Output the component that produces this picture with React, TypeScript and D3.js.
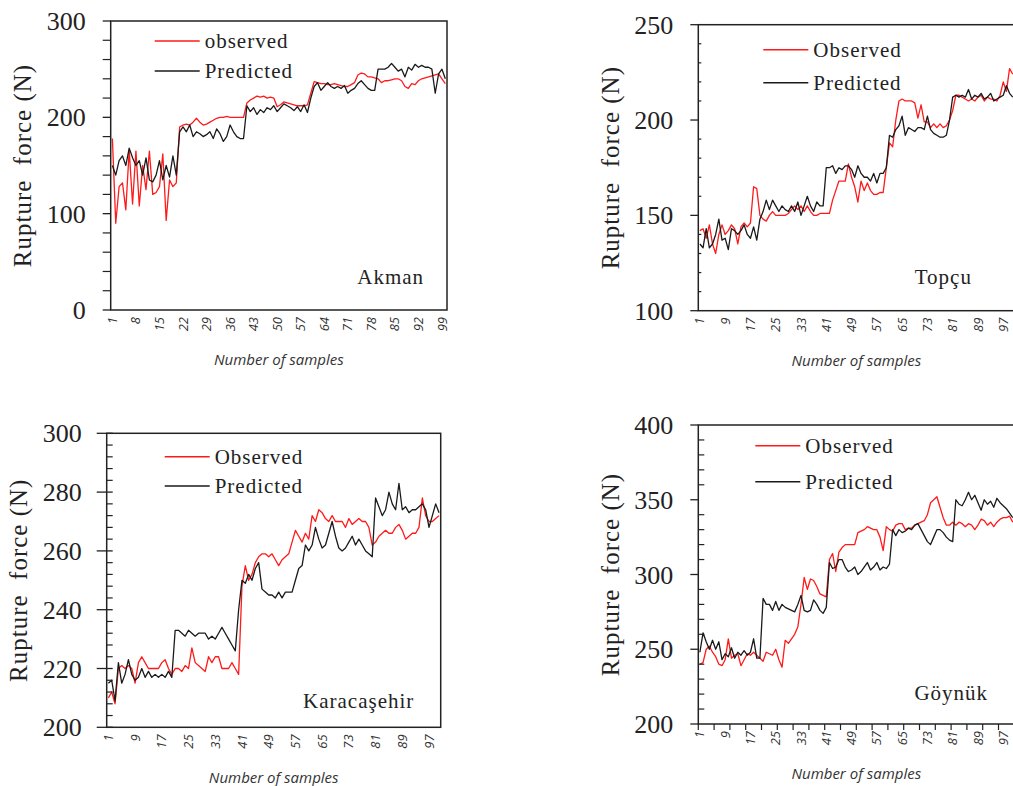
import * as d3 from 'd3';

// sample index (category axis)
const samples = d3.range(1, 101);

const akmanObserved = [
  178, 90, 128, 132, 104, 166, 110, 165, 108, 150,
  125, 165, 120, 122, 128, 162, 93, 135, 128, 132,
  190, 192, 193, 192, 195, 199, 195, 192, 193, 195,
  197, 199, 200, 200, 201, 200, 200, 200, 200, 200,
  215, 218, 220, 222, 221, 222, 220, 221, 220, 211,
  213, 216, 215, 214, 213, 212, 212, 212, 213, 225,
  237, 236, 235, 235, 234, 234, 235, 234, 233, 232,
  232, 234, 236, 244, 246, 245, 242, 242, 241, 240,
  236, 238, 238, 239, 240, 240, 238, 232, 230, 235,
  234, 238, 240, 241, 242, 243, 244, 245, 240, 235,
];
const akmanPredicted = [
  150, 140, 155, 160, 150, 168, 158, 150, 155, 140,
  158, 135, 133, 140, 155, 135, 150, 138, 160, 140,
  185, 190, 185, 192, 180, 185, 183, 180, 182, 185,
  178, 188, 183, 175, 180, 192, 185, 180, 178, 178,
  212, 206, 210, 203, 208, 205, 210, 208, 212, 206,
  210, 214, 212, 210, 207, 211, 206, 213, 205, 220,
  232, 236, 228, 232, 236, 232, 230, 232, 230, 233,
  225, 228, 230, 235, 238, 234, 230, 228, 228, 250,
  250, 250, 252, 256, 252, 248, 250, 242, 252, 249,
  255, 252, 254, 252, 252, 250, 225, 245, 250, 240,
];

const topcuObserved = [
  142, 143, 138, 145, 135, 130, 140, 145, 140, 142,
  145, 143, 135, 144, 146, 144, 146, 165, 164, 150,
  148, 147, 150, 152, 150, 150, 150, 150, 151, 153,
  155, 153, 155, 152, 155, 152, 150, 150, 151, 151,
  151, 151, 158, 163, 168, 168, 168, 177, 170, 165,
  157, 168, 163, 167, 163, 161, 161, 162, 162, 175,
  188, 186, 200, 210, 211, 210, 210, 210, 209, 201,
  208, 199, 199, 196, 198, 196, 198, 196, 197, 200,
  205, 213, 213, 212, 211, 210, 211, 210, 212, 213,
  210, 212, 211, 211, 210, 213, 220, 215, 227, 224,
];
const topcuPredicted = [
  135, 133, 143, 133, 135, 140, 148, 137, 138, 132,
  143, 142, 140, 142, 145, 140, 138, 144, 137, 148,
  152, 158, 153, 158, 155, 152, 155, 153, 152, 155,
  152, 157, 150, 155, 160, 155, 152, 157, 155, 155,
  175, 175, 176, 172, 175, 174, 176, 176, 174, 170,
  176, 172, 170, 170, 168, 172, 167, 172, 172, 175,
  192, 191, 195, 197, 202, 192, 196, 195, 194, 196,
  196, 195, 202, 195, 193, 192, 191, 191, 192, 200,
  212, 213, 212, 213, 212, 216, 211, 213, 212, 214,
  211, 212, 214, 210, 211, 212, 213, 218, 214, 212,
];

const karaObserved = [
  210, 212, 208, 220, 221, 220, 221, 220, 215, 222,
  224, 222, 220, 220, 220, 220, 222, 223, 220, 218,
  220, 220, 219, 221, 220, 227, 222, 221, 220, 219,
  224, 222, 224, 224, 220, 220, 220, 222, 220, 218,
  248, 255, 250, 252, 256, 258, 259, 259, 258, 259,
  257, 255, 257, 258, 259, 263, 267, 265, 263, 266,
  264, 272, 270, 274, 273, 271, 270, 272, 270, 270,
  270, 268, 271, 269, 270, 271, 270, 270, 268, 262,
  263, 265, 266, 267, 266, 266, 268, 269, 267, 264,
  265, 266, 266, 268, 278, 272, 270, 270, 271, 272,
];
const karaPredicted = [
  215, 216, 209, 222, 215, 218, 223, 218, 216, 217,
  220, 217, 219, 217, 218, 217, 218, 217, 219, 217,
  233, 233, 232, 231, 233, 232, 231, 232, 232, 232,
  230, 231, 230, 232, 234, 232, 230, 228, 226, 240,
  250, 249, 252, 250, 254, 256, 247, 246, 245, 245,
  244, 246, 244, 246, 246, 246, 250, 254, 255, 262,
  260, 262, 268, 264, 261, 262, 266, 270, 265, 261,
  260, 261, 263, 265, 262, 264, 262, 260, 259, 258,
  278, 275, 272, 274, 280, 276, 274, 283, 274, 275,
  273, 274, 274, 275, 276, 274, 268, 272, 276, 273,
];

const goynukObserved = [
  240, 241, 250, 252, 248, 245, 240, 239, 243, 257,
  244, 246, 247, 239, 243, 247, 246, 248, 246, 244,
  242, 248, 247, 246, 250, 243, 238, 256, 254, 257,
  260, 265, 280, 298, 290, 297, 296, 292, 287, 286,
  285, 310, 314, 302, 315, 318, 320, 320, 320, 320,
  328, 329, 330, 332, 331, 330, 330, 325, 316, 332,
  330, 329, 333, 334, 334, 330, 331, 331, 333, 334,
  335, 336, 340, 348, 350, 352, 345, 338, 333, 333,
  335, 333, 335, 334, 332, 334, 333, 330, 333, 337,
  336, 333, 335, 332, 335, 337, 338, 338, 339, 335,
];
const goynukPredicted = [
  248, 261, 255, 250, 256, 250, 255, 243, 247, 245,
  251, 244, 248, 246, 249, 246, 248, 257, 244, 244,
  284, 280, 280, 276, 282, 276, 280, 278, 277, 276,
  275, 280, 286, 276, 275, 276, 283, 280, 276, 274,
  278, 308, 304, 305, 310, 310, 305, 302, 303, 305,
  300, 302, 305, 308, 303, 305, 308, 303, 305, 304,
  307, 330, 326, 330, 328, 329, 331, 330, 333, 334,
  330, 326, 322, 320, 325, 330, 330, 328, 325, 323,
  322, 350, 347, 346, 350, 355, 350, 353, 348, 343,
  350, 347, 349, 345, 351, 348, 346, 344, 341, 338,
];

const akmanTicks = [0, 100, 200, 300];
const topcuTicks = [100, 150, 200, 250];
const karaTicks = [200, 220, 240, 260, 280, 300];
const goynukTicks = [200, 250, 300, 350, 400];

const serif = "'Liberation Serif', 'Times New Roman', serif";
const sans = "'Open Sans', 'Liberation Sans', sans-serif";

const panels = [
  {
    name: 'Akman', obsLabel: 'observed', observed: akmanObserved, predicted: akmanPredicted,
    ticks: akmanTicks, minor: 20, xStep: 7,
    left: 110.7, top: 21, width: 336.3, height: 289,
    majorOut: 8, majorIn: 0, minorOut: 8, minorIn: 0, xTicks: false,
    legX: 44, legY: 20, legGap: 30, nameX: 280, nameY: 256,
  },
  {
    name: 'Topçu', obsLabel: 'Observed', observed: topcuObserved, predicted: topcuPredicted,
    ticks: topcuTicks, minor: 10, xStep: 8,
    left: 698.3, top: 24.7, width: 316, height: 286,
    majorOut: 8, majorIn: 0, minorOut: 0, minorIn: 3, xTicks: false,
    legX: 65, legY: 25, legGap: 33, nameX: 245, nameY: 252,
  },
  {
    name: 'Karacaşehir', obsLabel: 'Observed', observed: karaObserved, predicted: karaPredicted,
    ticks: karaTicks, minor: 4, xStep: 8,
    left: 106.7, top: 433.3, width: 334, height: 294,
    majorOut: 10, majorIn: 6, minorOut: 0, minorIn: 6, xTicks: false,
    legX: 58, legY: 23.4, legGap: 29.3, nameX: 252, nameY: 267,
  },
  {
    name: 'Göynük', obsLabel: 'Observed', observed: goynukObserved, predicted: goynukPredicted,
    ticks: goynukTicks, minor: 10, xStep: 8,
    left: 698.3, top: 425, width: 316, height: 299,
    majorOut: 8, majorIn: 0, minorOut: 0, minorIn: 6, xTicks: true,
    legX: 57, legY: 20.7, legGap: 36, nameX: 253, nameY: 268,
  },
];

function Panel({ p }: { p: any }) {
  const x = d3.scaleBand<number>().domain(samples).range([p.left, p.left + p.width]);
  const lo = p.ticks[0];
  const hi = p.ticks[p.ticks.length - 1];
  const y = d3.scaleLinear().domain([lo, hi]).range([p.top + p.height, p.top]);
  const cx = (s: number) => (x(s) as number) + x.bandwidth() / 2;
  const line = d3.line<number>().x((_, i) => cx(samples[i])).y(d => y(d));
  const bottom = p.top + p.height;
  const minors = d3.range(lo, hi + 0.001, p.minor).filter(v => !p.ticks.includes(v));
  const xLabels = samples.filter(s => (s - 1) % p.xStep === 0);
  const xBoundaries = d3.range(0, 101, 5);

  return (
    <g>
      <path d={line(p.observed) || ''} fill="none" stroke="#ff1a1a" strokeWidth={1.3} strokeLinejoin="round" />
      <path d={line(p.predicted) || ''} fill="none" stroke="#1a1a1a" strokeWidth={1.3} strokeLinejoin="round" />
      <rect x={p.left} y={p.top} width={p.width} height={p.height} fill="none" stroke="#222" strokeWidth={1.5} />

      {p.ticks.map((t: number) => (
        <g key={'M' + t}>
          <line x1={p.left - p.majorOut} x2={p.left + p.majorIn} y1={y(t)} y2={y(t)} stroke="#222" strokeWidth={1.3} />
          <text x={p.left - 25} y={y(t)} dy="0.35em" textAnchor="end" fontFamily={serif} fontSize={26} fill="#222">{t}</text>
        </g>
      ))}
      {minors.map((t: number) => (
        <line key={'m' + t} x1={p.left - p.minorOut} x2={p.left + p.minorIn} y1={y(t)} y2={y(t)} stroke="#222" strokeWidth={1.2} />
      ))}

      {p.xTicks && xBoundaries.map((k: number) => {
        const xx = p.left + k * x.step();
        return <line key={'xt' + k} x1={xx} x2={xx} y1={bottom} y2={bottom + 6} stroke="#222" strokeWidth={1.2} />;
      })}
      {xLabels.map(s => (
        <text key={'xl' + s} transform={`translate(${cx(s)},${bottom + 7}) rotate(-90)`} dy="0.35em" textAnchor="end"
          fontFamily={sans} fontStyle="italic" fontSize={13} fill="#333">{s}</text>
      ))}

      <text x={p.left + p.width / 2} y={bottom + 50} dy="0.35em" textAnchor="middle" fontFamily={sans}
        fontStyle="italic" fontSize={15} fill="#333">Number of samples</text>
      <text transform={`translate(${p.left - 88},${p.top + p.height / 2}) rotate(-90)`} dy="0.35em" textAnchor="middle"
        fontFamily={serif} fontSize={25} letterSpacing={1} fill="#222" style={{ whiteSpace: 'pre' }}>Rupture  force (N)</text>

      <line x1={p.left + p.legX} x2={p.left + p.legX + 45} y1={p.top + p.legY} y2={p.top + p.legY} stroke="#ff1a1a" strokeWidth={1.5} />
      <text x={p.left + p.legX + 50} y={p.top + p.legY} dy="0.35em" fontFamily={serif} fontSize={21} letterSpacing={1} fill="#222">{p.obsLabel}</text>
      <line x1={p.left + p.legX} x2={p.left + p.legX + 45} y1={p.top + p.legY + p.legGap} y2={p.top + p.legY + p.legGap} stroke="#1a1a1a" strokeWidth={1.5} />
      <text x={p.left + p.legX + 50} y={p.top + p.legY + p.legGap} dy="0.35em" fontFamily={serif} fontSize={21} letterSpacing={1} fill="#222">Predicted</text>

      <text x={p.left + p.nameX} y={p.top + p.nameY} dy="0.35em" textAnchor="middle" fontFamily={serif} fontSize={21}
        letterSpacing={1} fill="#222">{p.name}</text>
    </g>
  );
}

export default function App() {
  return (
    <svg width={1013} height={786} style={{ position: 'absolute', left: 0, top: 0, background: '#fff' }}>
      {panels.map(p => <Panel key={p.name} p={p} />)}
    </svg>
  );
}
